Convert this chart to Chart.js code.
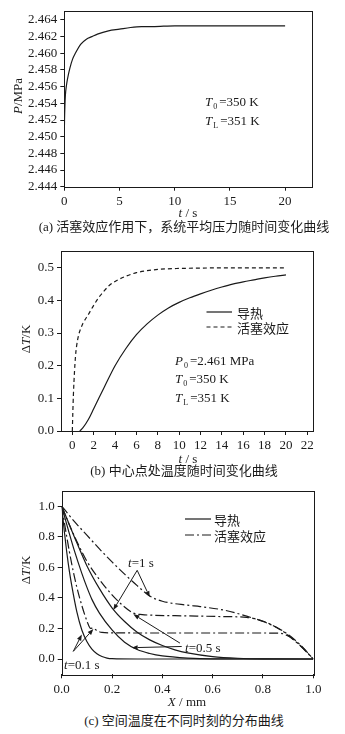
<!DOCTYPE html>
<html><head><meta charset="utf-8">
<script src="https://cdn.jsdelivr.net/npm/chart.js@4.4.1/dist/chart.umd.min.js"></script>
<style>
html,body{margin:0;padding:0;background:#fff;}
#wrap{position:relative;width:345px;height:734px;overflow:hidden;background:#fff;font-family:"Liberation Serif","Noto Sans CJK SC",serif;color:#1a1a1a;}
canvas{position:absolute;left:0;}
.t{position:absolute;white-space:nowrap;font-size:13px;line-height:13px;transform:translateY(-50%);}
.c{position:absolute;white-space:nowrap;font-size:13px;line-height:13px;transform:translate(-50%,-50%);}
.r{position:absolute;white-space:nowrap;font-size:13px;line-height:13px;transform:translate(-50%,-50%) rotate(-90deg);}
.cap{position:absolute;left:0;width:368px;text-align:center;font-size:13px;line-height:13px;transform:translateY(-50%);}
.zh{font-family:"Noto Sans CJK SC",sans-serif;}
sub{font-size:8px;vertical-align:-3px;line-height:0;margin-left:1px;margin-right:2px;}
svg{position:absolute;}
</style>
</head><body>
<div id="wrap">
  <canvas id="ca" width="345" height="218" style="top:0;width:345px;height:218px"></canvas>
  <canvas id="cb" width="345" height="215" style="top:240px;width:345px;height:215px"></canvas>
  <canvas id="cc" width="345" height="215" style="top:480px;width:345px;height:215px"></canvas>

  <!-- chart (a) texts -->
  <div class="r" style="left:17px;top:96px"><i>P</i>/MPa</div>
  <div class="c" style="left:188px;top:212px"><i>t</i> / s</div>
  <div class="t" style="left:205px;top:101px"><i>T</i><sub>0</sub>=350 K</div>
  <div class="t" style="left:205px;top:120px"><i>T</i><sub>L</sub>=351 K</div>
  <div class="cap" style="top:226px">(a) <span class="zh">活塞效应作用下，系统平均压力随时间变化曲线</span></div>

  <!-- chart (b) texts -->
  <div class="r" style="left:25px;top:339px">Δ<i>T</i>/K</div>
  <div class="c" style="left:188px;top:458px"><i>t</i> / s</div>
  <svg style="left:206px;top:305px" width="28" height="30">
    <line x1="0.5" y1="7" x2="26" y2="7" stroke="#1a1a1a" stroke-width="1.2"/>
    <line x1="0.5" y1="22" x2="26" y2="22" stroke="#1a1a1a" stroke-width="1.2" stroke-dasharray="4,3"/>
  </svg>
  <div class="t zh" style="left:237px;top:312px">导热</div>
  <div class="t zh" style="left:237px;top:327px">活塞效应</div>
  <div class="t" style="left:175px;top:360px"><i>P</i><sub>0</sub>=2.461 MPa</div>
  <div class="t" style="left:175px;top:378px"><i>T</i><sub>0</sub>=350 K</div>
  <div class="t" style="left:175px;top:397px"><i>T</i><sub>L</sub>=351 K</div>
  <div class="cap" style="top:470px">(b) <span class="zh">中心点处温度随时间变化曲线</span></div>

  <!-- chart (c) texts -->
  <div class="r" style="left:25px;top:570px">Δ<i>T</i>/K</div>
  <div class="c" style="left:187px;top:701px"><i>X</i> / mm</div>
  <svg style="left:185px;top:512px" width="28" height="30">
    <line x1="0" y1="7" x2="26" y2="7" stroke="#1a1a1a" stroke-width="1.2"/>
    <line x1="0" y1="23" x2="26" y2="23" stroke="#1a1a1a" stroke-width="1.2" stroke-dasharray="9,3,2,3"/>
  </svg>
  <div class="t zh" style="left:214px;top:519px">导热</div>
  <div class="t zh" style="left:214px;top:535px">活塞效应</div>
  <div class="t" style="left:128px;top:562px"><i>t</i>=1 s</div>
  <div class="t" style="left:185px;top:647px"><i>t</i>=0.5 s</div>
  <div class="t" style="left:64px;top:664px"><i>t</i>=0.1 s</div>
  <div class="cap" style="top:720px">(c) <span class="zh">空间温度在不同时刻的分布曲线</span></div>
</div>
<script>
// ---------- chart (a): mean pressure vs time ----------
const timeA = [0, 0.02, 0.05, 0.1, 0.2, 0.3, 0.5, 0.75, 1, 1.5, 2, 2.5, 3, 4, 5, 6, 7, 8, 10, 12, 15, 20];
const pressureA = [2.4502, 2.452, 2.4535, 2.455, 2.4562, 2.457, 2.4582, 2.4593, 2.4600, 2.4611, 2.4617, 2.4620, 2.4623, 2.4627, 2.4629, 2.4631, 2.4632, 2.4632, 2.4633, 2.4633, 2.4633, 2.4633];
const xTicksA = [0, 5, 10, 15, 20];
const yTicksA = [2.444, 2.446, 2.448, 2.450, 2.452, 2.454, 2.456, 2.458, 2.460, 2.462, 2.464];

// ---------- chart (b): centre-point temperature vs time ----------
const timeCond = [0.7, 1, 1.5, 2, 2.5, 3, 4, 5, 6, 7, 8, 9, 10, 11, 12, 13, 14, 15, 16, 17, 18, 19, 20];
const dTCond = [0, 0.01, 0.035, 0.068, 0.102, 0.135, 0.2, 0.252, 0.295, 0.328, 0.355, 0.377, 0.394, 0.408, 0.42, 0.431, 0.441, 0.45, 0.457, 0.463, 0.469, 0.474, 0.478];
const timePiston = [0, 0.05, 0.1, 0.2, 0.3, 0.4, 0.6, 0.8, 1, 1.5, 2, 2.5, 3, 3.5, 4, 5, 6, 7, 8, 10, 12, 14, 20];
const dTPiston = [0, 0.06, 0.11, 0.18, 0.23, 0.26, 0.295, 0.315, 0.33, 0.357, 0.385, 0.41, 0.43, 0.447, 0.458, 0.474, 0.485, 0.491, 0.495, 0.498, 0.499, 0.5, 0.5];
const xTicksB = [0, 2, 4, 6, 8, 10, 12, 14, 16, 18, 20, 22];
const yTicksB = [0, 0.1, 0.2, 0.3, 0.4, 0.5];

// ---------- chart (c): spatial temperature distribution ----------
const cond01X = [0, 0.01, 0.02, 0.03, 0.04, 0.06, 0.08, 0.1, 0.12, 0.14, 0.16, 0.18, 0.2, 0.3, 1];
const cond01Y = [1, 0.84, 0.7, 0.58, 0.48, 0.31, 0.19, 0.115, 0.065, 0.035, 0.016, 0.006, 0.002, 0, 0];
const cond05X = [0, 0.02, 0.05, 0.08, 0.1, 0.12, 0.15, 0.2, 0.25, 0.3, 0.35, 0.4, 0.5, 0.6, 1];
const cond05Y = [1, 0.88, 0.71, 0.56, 0.47, 0.39, 0.3, 0.19, 0.11, 0.062, 0.036, 0.02, 0.006, 0.001, 0];
const cond1X = [0, 0.02, 0.05, 0.1, 0.15, 0.2, 0.25, 0.3, 0.35, 0.4, 0.45, 0.5, 0.6, 0.7, 0.8, 1];
const cond1Y = [1, 0.92, 0.8, 0.61, 0.46, 0.335, 0.245, 0.175, 0.125, 0.088, 0.06, 0.04, 0.016, 0.005, 0.001, 0];
const pist01X = [0, 0.02, 0.04, 0.06, 0.08, 0.1, 0.115, 0.125, 0.14, 0.16, 0.2, 0.4, 0.6, 0.8, 0.87, 0.9, 0.95, 1];
const pist01Y = [1, 0.8, 0.62, 0.47, 0.35, 0.25, 0.2, 0.203, 0.185, 0.174, 0.171, 0.17, 0.17, 0.17, 0.168, 0.15, 0.085, 0];
const pist05X = [0, 0.03, 0.06, 0.1, 0.15, 0.2, 0.25, 0.285, 0.32, 0.35, 0.5, 0.62, 0.735, 0.78, 0.82, 0.88, 0.94, 1];
const pist05Y = [1, 0.88, 0.77, 0.64, 0.52, 0.42, 0.34, 0.3, 0.29, 0.287, 0.282, 0.278, 0.272, 0.258, 0.235, 0.18, 0.1, 0];
const pist1X = [0, 0.05, 0.1, 0.15, 0.2, 0.25, 0.3, 0.35, 0.4, 0.5, 0.55, 0.65, 0.735, 0.8, 0.85, 0.9, 0.95, 1];
const pist1Y = [1, 0.9, 0.81, 0.72, 0.635, 0.555, 0.48, 0.412, 0.378, 0.352, 0.343, 0.318, 0.28, 0.245, 0.21, 0.16, 0.09, 0];
const xTicksC = [0, 0.2, 0.4, 0.6, 0.8, 1.0];
const yTicksC = [0, 0.2, 0.4, 0.6, 0.8, 1.0];
// annotation arrows in chart (c), data coords: [tailX, tailY, headX, headY]
const arrowsC = [
  [0.30, 0.58, 0.205, 0.32], [0.30, 0.58, 0.35, 0.405],
  [0.47, 0.104, 0.285, 0.292], [0.477, 0.082, 0.278, 0.074],
  [0.046, 0.05, 0.08, 0.16], [0.046, 0.05, 0.126, 0.196]
];

const INK = '#1a1a1a';
Chart.defaults.font.family = "'Liberation Serif', 'Times New Roman', serif";
Chart.defaults.font.size = 13;
Chart.defaults.color = INK;

const pts = (xs, ys) => xs.map((x, i) => ({x: x, y: ys[i]}));

const framePlugin = {
  id: 'frame',
  afterDatasetsDraw(chart) {
    const {ctx, chartArea: a} = chart;
    ctx.save();
    ctx.strokeStyle = INK; ctx.lineWidth = 1;
    ctx.strokeRect(Math.round(a.left) + 0.5, Math.round(a.top) + 0.5,
                   Math.round(a.right - a.left), Math.round(a.bottom - a.top));
    ctx.restore();
  }
};

function axis(min, max, ticks, decimals, fixed, isX) {
  return {
    type: 'linear', min: min, max: max,
    border: {display: false},
    grid: {drawOnChartArea: false, drawTicks: true, tickLength: 4, color: INK, lineWidth: 1},
    ticks: {padding: 3, color: INK, font: {size: 13}, autoSkip: false, maxRotation: 0,
            callback: v => Number(v).toFixed(decimals)},
    afterBuildTicks: s => { s.ticks = ticks.map(v => ({value: v})); },
    afterFit: s => { if (isX) s.height = fixed; else s.width = fixed; }
  };
}

function line(data, dash) {
  return {data: data, borderColor: INK, borderWidth: 1.2, pointRadius: 0, fill: false,
          borderDash: dash || [], cubicInterpolationMode: 'monotone'};
}

const baseOpts = (pad) => ({
  responsive: false, animation: false, devicePixelRatio: 1,
  layout: {padding: pad},
  plugins: {legend: {display: false}, tooltip: {enabled: false}},
});

// chart (a)
new Chart(document.getElementById('ca'), {
  type: 'line',
  data: {datasets: [line(pts(timeA, pressureA))]},
  options: Object.assign(baseOpts({top: 6, right: 32.3, left: 0, bottom: 0}), {
    scales: {
      x: axis(0, 22.5, xTicksA, 0, 31.3, true),
      y: axis(2.444, 2.4651, yTicksA, 3, 64.3, false)
    }
  }),
  plugins: [framePlugin]
});

// chart (b)
new Chart(document.getElementById('cb'), {
  type: 'line',
  data: {datasets: [
    line(pts(timeCond, dTCond)),
    line(pts(timePiston, dTPiston), [4, 3])
  ]},
  options: Object.assign(baseOpts({top: 6.7, right: 31.7, left: 0, bottom: 0}), {
    scales: {
      x: axis(-1.06, 22.56, xTicksB, 0, 24, true),
      y: axis(0, 0.552, yTicksB, 1, 61, false)
    }
  }),
  plugins: [framePlugin]
});

// chart (c)
const arrowPlugin = {
  id: 'arrows',
  afterDatasetsDraw(chart) {
    const {ctx, scales: {x, y}} = chart;
    ctx.save();
    ctx.strokeStyle = INK; ctx.fillStyle = INK; ctx.lineWidth = 1;
    arrowsC.forEach(a => {
      const x1 = x.getPixelForValue(a[0]), y1 = y.getPixelForValue(a[1]);
      const x2 = x.getPixelForValue(a[2]), y2 = y.getPixelForValue(a[3]);
      const ang = Math.atan2(y2 - y1, x2 - x1), L = 6, W = 2.3;
      ctx.beginPath(); ctx.moveTo(x1, y1);
      ctx.lineTo(x2 - L * Math.cos(ang), y2 - L * Math.sin(ang)); ctx.stroke();
      ctx.beginPath(); ctx.moveTo(x2, y2);
      ctx.lineTo(x2 - L * Math.cos(ang) + W * Math.sin(ang), y2 - L * Math.sin(ang) - W * Math.cos(ang));
      ctx.lineTo(x2 - L * Math.cos(ang) - W * Math.sin(ang), y2 - L * Math.sin(ang) + W * Math.cos(ang));
      ctx.closePath(); ctx.fill();
    });
    ctx.restore();
  }
};
const DD = [9, 3, 2, 3];
new Chart(document.getElementById('cc'), {
  type: 'line',
  data: {datasets: [
    line(pts(cond01X, cond01Y)),
    line(pts(cond05X, cond05Y)),
    line(pts(cond1X, cond1Y)),
    line(pts(pist01X, pist01Y), DD),
    line(pts(pist05X, pist05Y), DD),
    line(pts(pist1X, pist1Y), DD)
  ]},
  options: Object.assign(baseOpts({top: 10.7, right: 31.7, left: 0, bottom: 0}), {
    scales: {
      x: axis(0, 1, xTicksC, 1, 20.7, true),
      y: axis(-0.1, 1.1, yTicksC, 1, 61.7, false)
    }
  }),
  plugins: [framePlugin, arrowPlugin]
});
</script>
</body></html>
